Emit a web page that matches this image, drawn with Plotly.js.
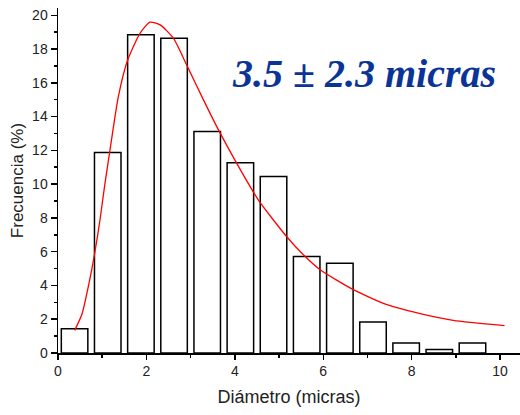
<!DOCTYPE html>
<html>
<head>
<meta charset="utf-8">
<script src="https://cdn.plot.ly/plotly-3.0.1.min.js"></script>
<style>html,body{margin:0;padding:0;background:#fff;}#chart{width:520px;height:415px;}</style>
</head>
<body>
<div id="chart"></div>
<script>
// Histogram bins (bin centers, micras) and frequencies (%)
const binCenters = [0.375, 1.125, 1.875, 2.625, 3.375, 4.125, 4.875, 5.625, 6.375, 7.125, 7.875, 8.625, 9.375];
const frequencies = [1.44, 11.87, 18.85, 18.64, 13.11, 11.26, 10.45, 5.72, 5.32, 1.83, 0.59, 0.2, 0.59];

// Fitted distribution curve
const fitX = [0.377, 0.543, 0.71, 0.837, 0.95, 1.063, 1.176, 1.365, 1.577, 1.855, 2.08, 2.31, 2.61, 2.91, 3.29, 3.63, 4.04, 4.53, 5.17, 5.55, 5.93, 6.68, 7.44, 8.19, 8.94, 10.1];
const fitY = [1.34, 2.31, 4.24, 6.01, 7.89, 10.06, 12.02, 15.18, 17.36, 18.93, 19.59, 19.43, 18.64, 17.06, 14.99, 13.21, 11.24, 9.07, 6.90, 5.82, 4.93, 3.75, 2.86, 2.33, 1.93, 1.62];

const xTickVals = [0, 2, 4, 6, 8, 10];
const yTickVals = [0, 2, 4, 6, 8, 10, 12, 14, 16, 18, 20];
const annotationText = '3.5 ± 2.3 micras';

const traces = [
  {
    type: 'bar',
    x: binCenters,
    y: frequencies,
    width: 0.6,
    marker: {color: '#ffffff', line: {color: '#000000', width: 1.5}},
    hoverinfo: 'skip'
  },
  {
    type: 'scatter',
    mode: 'lines',
    x: fitX,
    y: fitY,
    line: {color: '#ff0000', width: 1.3, shape: 'spline', smoothing: 0.6},
    hoverinfo: 'skip'
  }
];

const layout = {
  width: 520,
  height: 415,
  margin: {l: 58, r: 0, t: 8, b: 62},
  paper_bgcolor: '#ffffff',
  plot_bgcolor: '#ffffff',
  showlegend: false,
  font: {family: 'Liberation Sans, Arial, sans-serif', color: '#222222', size: 14},
  xaxis: {
    range: [0, 10.45],
    tickvals: xTickVals,
    ticktext: xTickVals.map(String),
    ticks: 'outside',
    ticklen: 5,
    tickwidth: 1.5,
    tickcolor: '#000',
    minor: {ticks: 'outside', ticklen: 3, tickwidth: 1.5, tickcolor: '#000', dtick: 1, tick0: 0, showgrid: false},
    showline: true,
    linecolor: '#000',
    linewidth: 1.5,
    showgrid: false,
    zeroline: false,
    tickfont: {size: 14, color: '#222'},
    title: {text: 'Diámetro (micras)', font: {size: 18, color: '#222'}, standoff: 12}
  },
  yaxis: {
    range: [0, 20.43],
    tickvals: yTickVals,
    ticktext: yTickVals.map(String),
    ticks: 'outside',
    ticklen: 6,
    tickwidth: 1.5,
    tickcolor: '#000',
    minor: {ticks: 'outside', ticklen: 3, tickwidth: 1.5, tickcolor: '#000', dtick: 1, tick0: 0, showgrid: false},
    showline: true,
    linecolor: '#000',
    linewidth: 1.5,
    showgrid: false,
    zeroline: false,
    tickfont: {size: 14, color: '#222'},
    title: {text: 'Frecuencia (%)', font: {size: 17, color: '#222'}, standoff: 4}
  },
  annotations: [{
    x: 6.92,
    y: 16.58,
    xref: 'x',
    yref: 'y',
    text: annotationText,
    showarrow: false,
    xanchor: 'center',
    yanchor: 'middle',
    font: {family: 'Liberation Serif, Times New Roman, serif', size: 40, color: '#0b3497', weight: 'bold', style: 'italic'}
  }]
};

Plotly.newPlot('chart', traces, layout, {displayModeBar: false, staticPlot: true});
</script>
</body>
</html>
